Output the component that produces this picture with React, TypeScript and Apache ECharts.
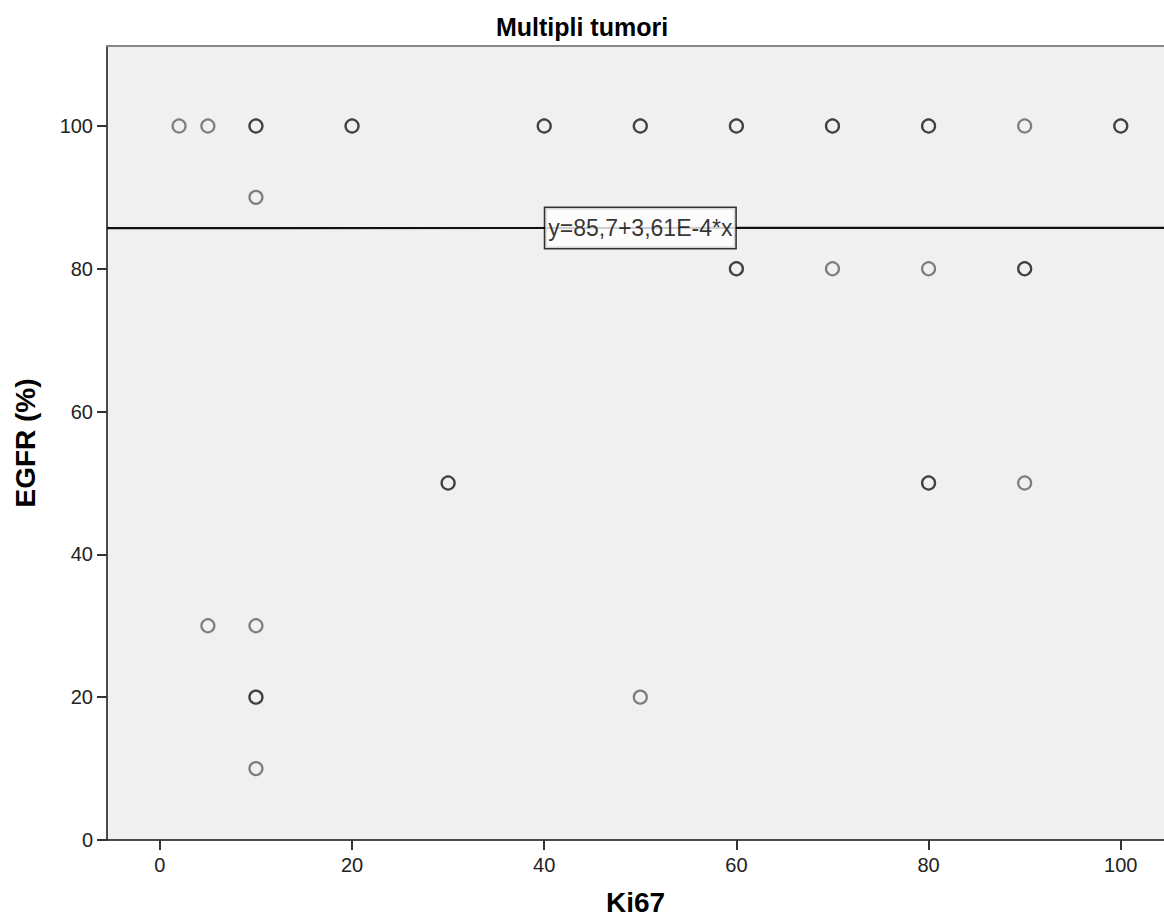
import React, { useEffect, useRef } from "react";
import * as echarts from "echarts";

// Scatter data (Ki67, EGFR %) — duplicated pairs are overlapping cases
const ki67 = [2, 5, 10, 10, 20, 20, 40, 40, 50, 50, 60, 60, 70, 70, 80, 80, 90, 100, 100,
  10,
  60, 60, 70, 80, 90, 90,
  30, 30, 80, 80, 90,
  5, 10,
  10, 10, 50,
  10];
const egfr = [100, 100, 100, 100, 100, 100, 100, 100, 100, 100, 100, 100, 100, 100, 100, 100, 100, 100, 100,
  90,
  80, 80, 80, 80, 80, 80,
  50, 50, 50, 50, 50,
  30, 30,
  20, 20, 20,
  10];

// Linear fit shown on the chart
const fitIntercept = 85.7;
const fitSlope = 3.61e-4;
const fitLabel = "y=85,7+3,61E-4*x";
const fitLabelX = 50;

const xTicks = [0, 20, 40, 60, 80, 100];
const yTicks = [0, 20, 40, 60, 80, 100];
const X_MIN = -5.5;
const X_MAX = 104.5;
const Y_MIN = 0;
const Y_MAX = 111.2;

const FONT = "'Liberation Sans', Arial, sans-serif";

export default function App() {
  const ref = useRef<HTMLDivElement>(null);
  useEffect(() => {
    document.body.style.margin = "0";
    if (!ref.current) return;
    const chart = echarts.init(ref.current, undefined, { renderer: "svg" });
    const points = ki67.map((k, i) => [k, egfr[i]]);
    const lineData = [
      [X_MIN, fitIntercept + fitSlope * X_MIN],
      [X_MAX, fitIntercept + fitSlope * X_MAX],
    ];
    chart.setOption({
      animation: false,
      backgroundColor: "#ffffff",
      textStyle: { fontFamily: FONT },
      title: {
        text: "Multipli tumori",
        left: "center",
        top: 9,
        textStyle: { fontFamily: FONT, fontSize: 25, fontWeight: "bold", color: "#000" },
      },
      grid: {
        left: 107,
        right: 0,
        top: 46,
        bottom: 78,
        show: true,
        backgroundColor: "#f0f0f0",
        borderWidth: 0,
        containLabel: false,
        outerBoundsMode: "none",
      },
      xAxis: [
        {
          type: "value",
          min: X_MIN,
          max: X_MAX,
          position: "bottom",
          name: "Ki67",
          nameLocation: "middle",
          nameGap: 48,
          nameMoveOverlap: false,
          nameTextStyle: { fontFamily: FONT, fontSize: 28, fontWeight: "bold", color: "#000" },
          axisLine: { show: true, onZero: false, lineStyle: { color: "#111", width: 1.5 } },
          axisTick: { show: true, length: 10, customValues: xTicks, lineStyle: { color: "#333", width: 2 } },
          axisLabel: { customValues: xTicks, margin: 15, fontSize: 20, color: "#222", fontFamily: FONT },
          splitLine: { show: false },
        },
        {
          type: "value",
          min: X_MIN,
          max: X_MAX,
          position: "top",
          axisLine: { show: true, onZero: false, lineStyle: { color: "#888", width: 2 } },
          axisTick: { show: false },
          axisLabel: { show: false },
          splitLine: { show: false },
        },
      ],
      yAxis: {
        type: "value",
        min: Y_MIN,
        max: Y_MAX,
        name: "EGFR (%)",
        nameLocation: "middle",
        nameGap: 68,
        nameMoveOverlap: false,
        nameTextStyle: { fontFamily: FONT, fontSize: 28, fontWeight: "bold", color: "#000" },
        axisLine: { show: true, onZero: false, lineStyle: { color: "#111", width: 1.5 } },
        axisTick: { show: true, length: 10, customValues: yTicks, lineStyle: { color: "#333", width: 2 } },
        axisLabel: { customValues: yTicks, margin: 14, fontSize: 20, color: "#222", fontFamily: FONT },
        splitLine: { show: false },
      },
      series: [
        {
          type: "line",
          data: lineData,
          symbol: "none",
          silent: true,
          lineStyle: { color: "#111", width: 2.2 },
          z: 2,
        },
        {
          type: "scatter",
          data: points,
          symbol: "circle",
          symbolSize: 13,
          itemStyle: { color: "transparent", borderColor: "rgba(0,0,0,0.6)", borderWidth: 2.2 },
          z: 3,
        },
        {
          type: "scatter",
          data: [[fitLabelX, fitIntercept + fitSlope * fitLabelX]],
          symbol: "circle",
          symbolSize: 1,
          itemStyle: { color: "transparent" },
          label: {
            show: true,
            position: "inside",
            formatter: fitLabel,
            fontFamily: FONT,
            fontSize: 23,
            color: "#000",
            backgroundColor: "#ffffff",
            borderColor: "#000",
            borderWidth: 1.5,
            padding: [7, 3, 7, 3],
            lineHeight: 26,
          },
          z: 5,
        },
      ],
    });
    return () => chart.dispose();
  }, []);
  return <div ref={ref} style={{ width: 1164, height: 918 }} />;
}
